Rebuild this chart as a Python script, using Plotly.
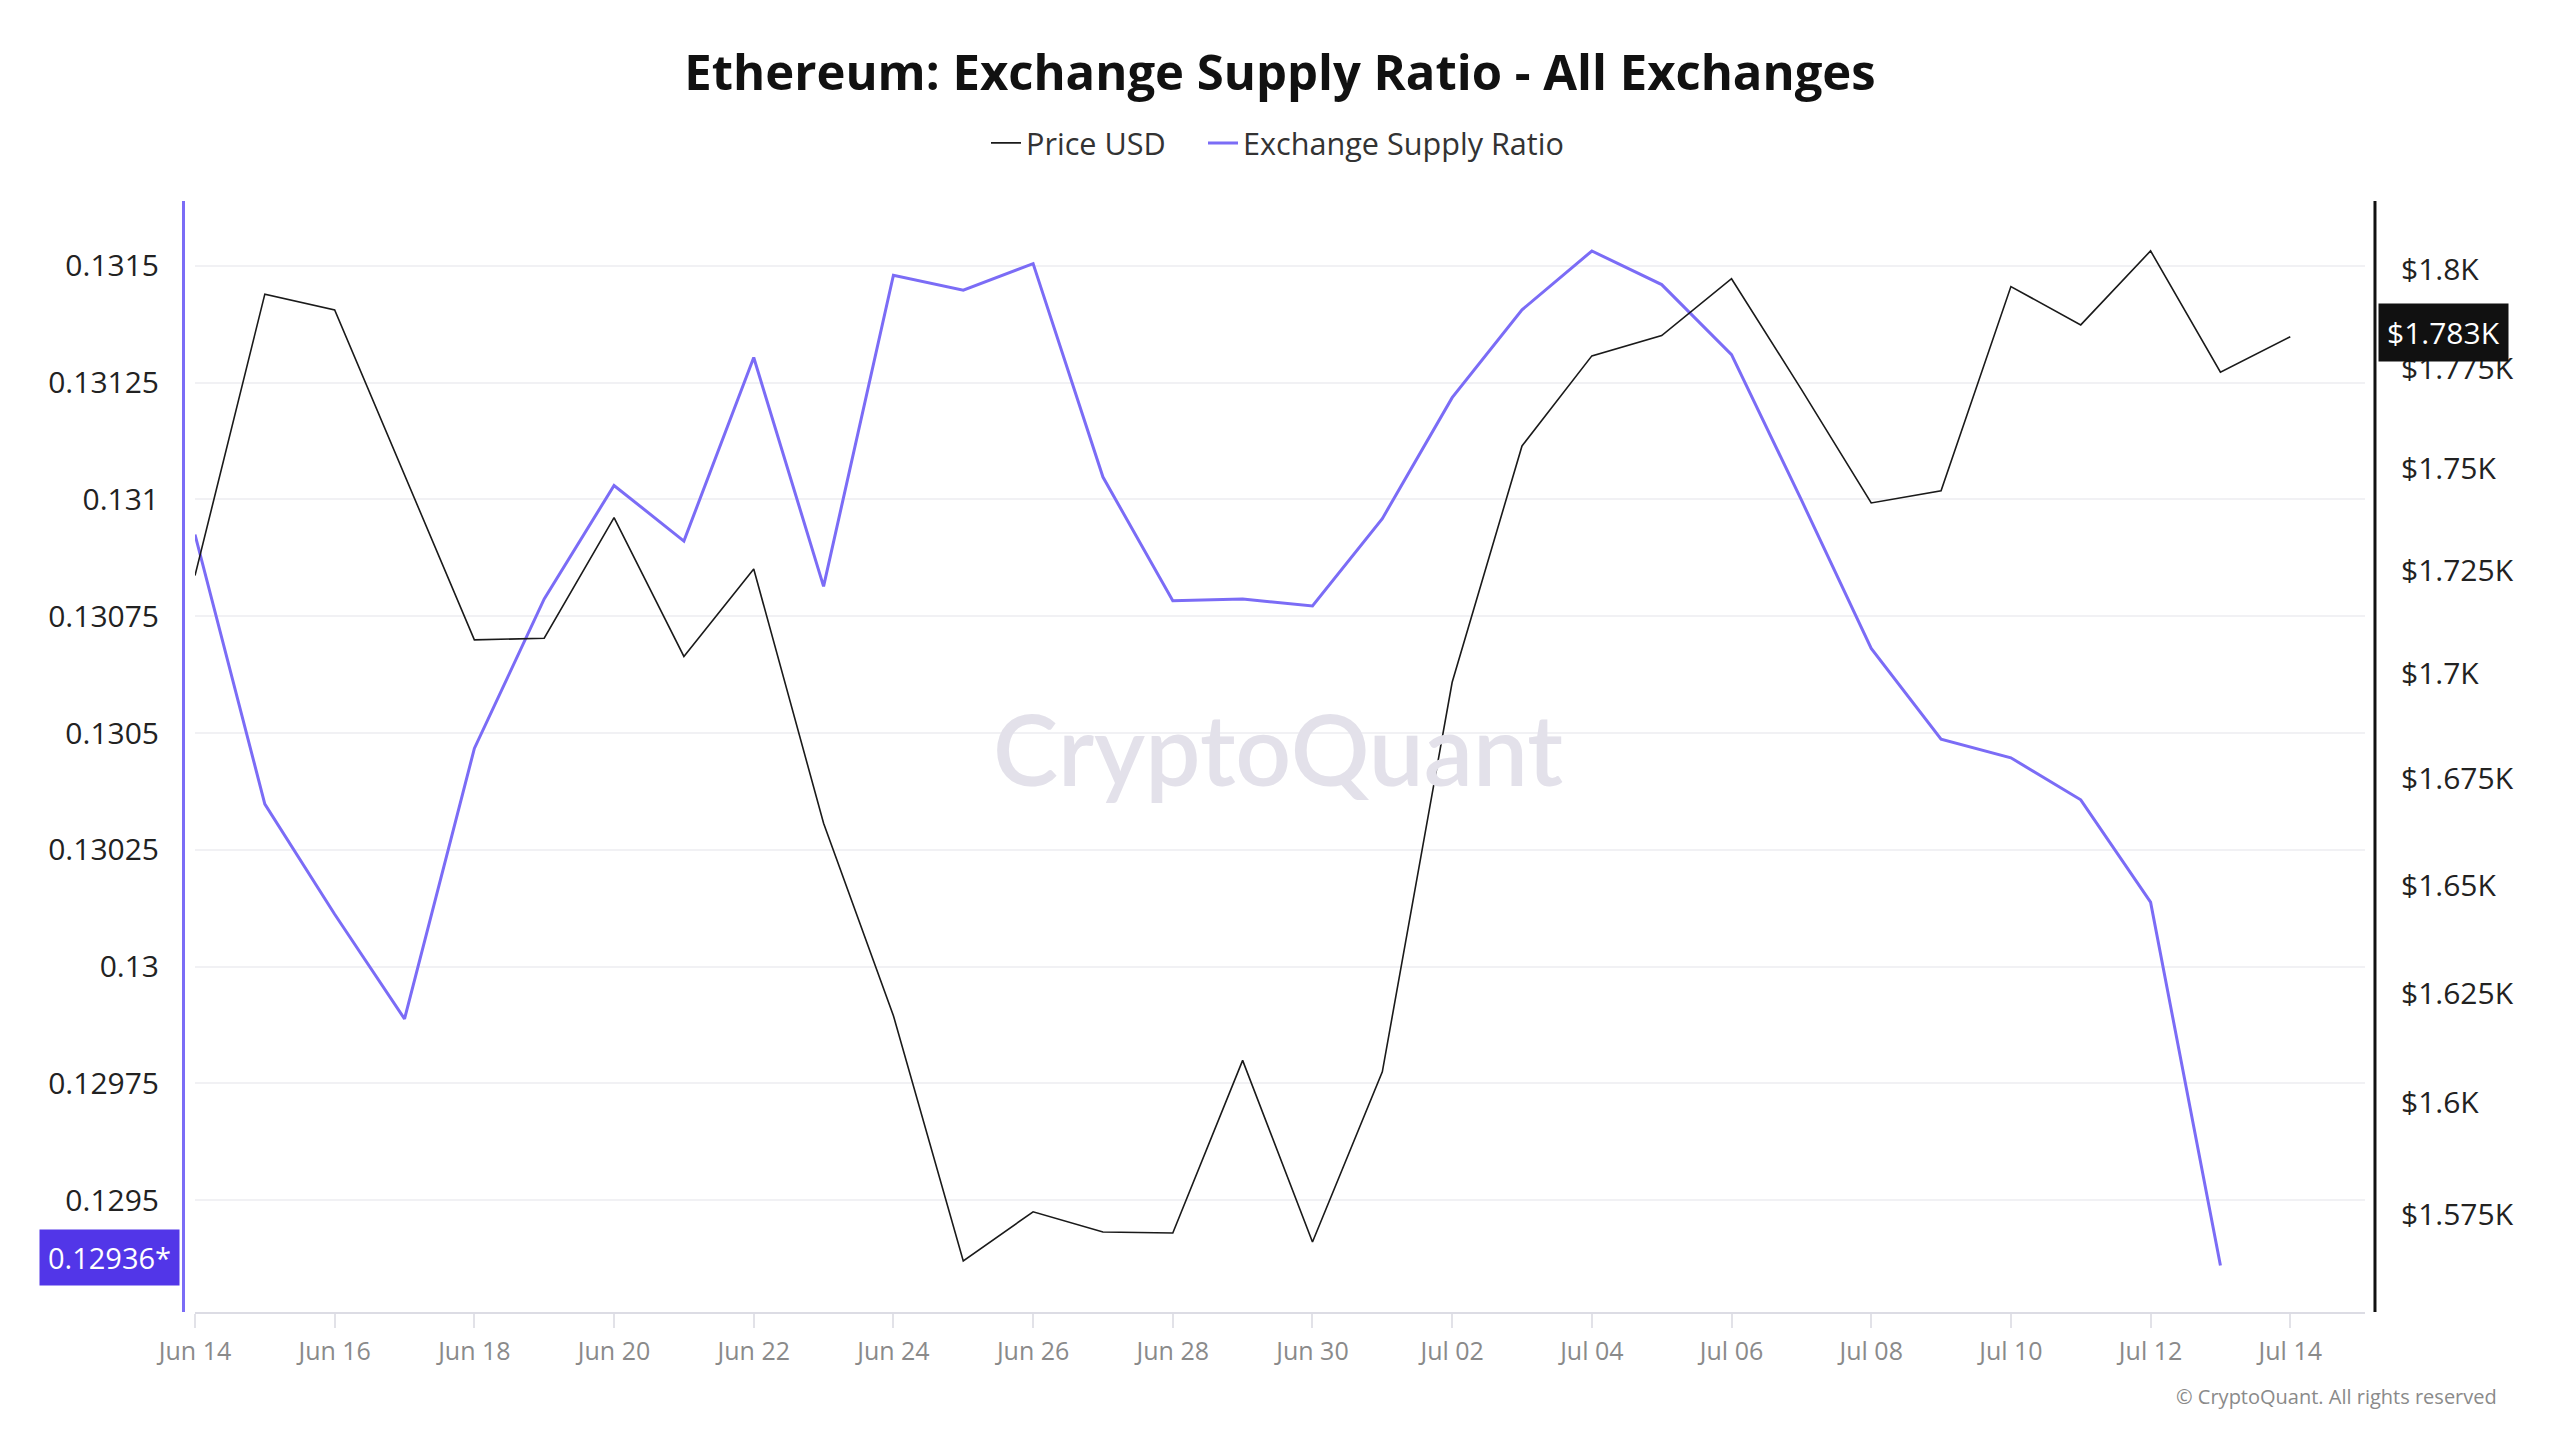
import math
import pandas as pd
import plotly.graph_objects as go

# ---------------- data ----------------
start_date = "2023-06-14"
n_price = 31
n_ratio = 30
dates_price = pd.date_range(start_date, periods=n_price, freq="D")
dates_ratio = pd.date_range(start_date, periods=n_ratio, freq="D")

price_usd = [1723.8, 1793.8, 1789.8, 1748.3, 1708.2, 1708.6, 1738.0, 1704.2, 1725.4, 1664.5,
             1619.8, 1564.6, 1575.5, 1571.0, 1570.8, 1609.6, 1568.8, 1607.0, 1698.0, 1755.7,
             1778.2, 1783.3, 1797.7, 1769.8, 1741.6, 1744.6, 1795.7, 1786.0, 1804.8, 1774.1,
             1783.0]

supply_ratio = [0.130925, 0.130348, 0.130112, 0.129888, 0.130467, 0.130787, 0.131030, 0.130911,
                0.131304, 0.130814, 0.131480, 0.131448, 0.131505, 0.131048, 0.130783, 0.130787,
                0.130772, 0.130959, 0.131218, 0.131406, 0.131532, 0.131460, 0.131310, 0.130999,
                0.130681, 0.130487, 0.130447, 0.130357, 0.130138, 0.12936]

left_ticks = [0.1295, 0.12975, 0.13, 0.13025, 0.1305, 0.13075, 0.131, 0.13125, 0.1315]
left_ticktext = ["0.1295", "0.12975", "0.13", "0.13025", "0.1305", "0.13075", "0.131", "0.13125", "0.1315"]
right_ticks = [1575, 1600, 1625, 1650, 1675, 1700, 1725, 1750, 1775, 1800]
right_ticktext = ["$1.575K", "$1.6K", "$1.625K", "$1.65K", "$1.675K", "$1.7K", "$1.725K", "$1.75K", "$1.775K", "$1.8K"]

x_tickvals = pd.date_range(start_date, periods=16, freq="2D")

# ---------------- styling ----------------
PURPLE = "#7B6CF6"
BADGE_PURPLE = "#5236E8"
FONT = "Open Sans"

fig = go.Figure()
fig.add_trace(go.Scatter(x=dates_price, y=price_usd, name="Price USD", mode="lines",
                         line=dict(color="#1a1a1a", width=1.6), yaxis="y2", legend="legend"))
fig.add_trace(go.Scatter(x=dates_ratio, y=supply_ratio, name="Exchange Supply Ratio", mode="lines",
                         line=dict(color=PURPLE, width=3), yaxis="y", legend="legend2"))

x_start = pd.Timestamp(start_date)
x_end = x_start + pd.Timedelta(days=31.07)

legend_common = dict(orientation="h", y=1 - 143 / 1440, yanchor="middle", yref="container",
                     xref="container", xanchor="left", font=dict(size=30.6, color="#333"),
                     itemwidth=30, bgcolor="rgba(0,0,0,0)")

fig.update_layout(
    width=2560, height=1440,
    margin=dict(l=195, r=195, t=201, b=128),
    paper_bgcolor="white", plot_bgcolor="white",
    font=dict(family=FONT, color="#333"),
    title=dict(text="<b>Ethereum: Exchange Supply Ratio - All Exchanges</b>",
               x=0.5, xanchor="center", y=1 - 73 / 1440, yanchor="middle", yref="container",
               font=dict(size=49, color="#111", family=FONT)),
    legend=dict(x=986 / 2560, **legend_common),
    legend2=dict(x=1203 / 2560, **legend_common),
    showlegend=True,
    xaxis=dict(type="date", range=[x_start, x_end], tickvals=x_tickvals, tickformat="%b %d",
               showgrid=False, showline=True, linecolor="#dcdce4", linewidth=2,
               ticks="outside", ticklen=14, tickcolor="#e2e2e8", tickwidth=1.5,
               ticklabelstandoff=2,
               tickfont=dict(size=25, color="#8a8a8a"), zeroline=False),
    yaxis=dict(range=[0.1292605, 0.131639], tickvals=left_ticks, ticktext=left_ticktext,
               showgrid=True, gridcolor="#f1f1f4", gridwidth=1.5, showline=False, zeroline=False,
               ticks="", ticklabelstandoff=35, tickfont=dict(size=30, color="#222")),
    yaxis2=dict(type="log", range=[3.191265, 3.259491], tickvals=right_ticks, ticktext=right_ticktext,
                overlaying="y", side="right", showgrid=False, showline=False, zeroline=False,
                ticks="", ticklabelstandoff=35, tickfont=dict(size=30, color="#222")),
)

# axis lines drawn slightly outside the plot area
fig.add_shape(type="line", xref="paper", yref="paper", x0=-0.0053, x1=-0.0053, y0=0, y1=1,
              line=dict(color=PURPLE, width=3))
fig.add_shape(type="line", xref="paper", yref="paper", x0=1.0046, x1=1.0046, y0=0, y1=1,
              line=dict(color="#111", width=3))

# watermark
fig.add_annotation(text="CryptoQuant", xref="paper", yref="paper", x=0.499, y=0.508,
                   showarrow=False, font=dict(size=98, color="#e3e1ea", family="Lato", weight=600),
                   xanchor="center", yanchor="middle")

# last-value badges
fig.add_annotation(text="0.12936*", xref="paper", yref="y", x=-0.0053, y=supply_ratio[-1],
                   xanchor="right", yanchor="middle", xshift=-3, yshift=8, showarrow=False,
                   bgcolor=BADGE_PURPLE, borderpad=8, font=dict(size=29, color="white"))
fig.add_annotation(text="$1.783K", xref="paper", yref="y2", x=1.0046, y=math.log10(price_usd[-1]),
                   xanchor="left", yanchor="middle", xshift=3, yshift=4, showarrow=False,
                   bgcolor="#111", borderpad=8, font=dict(size=30, color="white"))

# copyright
fig.add_annotation(text="© CryptoQuant. All rights reserved", xref="paper", yref="paper",
                   x=(2499 - 195) / 2170, y=(1312 - 1396) / 1111, xanchor="right", yanchor="middle",
                   showarrow=False, font=dict(size=20, color="#8a8a8a"))

fig.write_html("out.html")
